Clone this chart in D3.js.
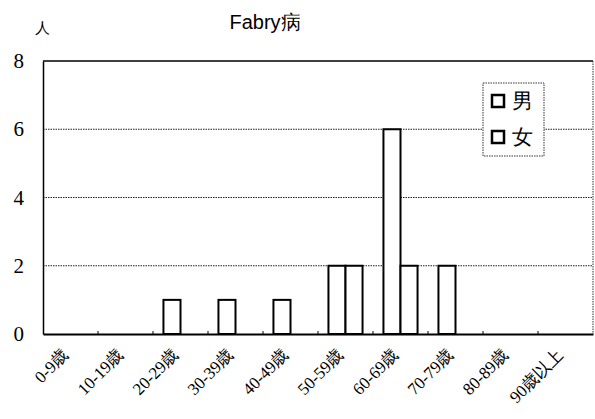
<!DOCTYPE html>
<html><head><meta charset="utf-8">
<script src="https://cdn.jsdelivr.net/npm/d3@7"></script>
</head>
<body style="margin:0;background:#fff">
<svg id="c" width="595" height="419" style="display:block"></svg>
<script>
const categories = ["0-9歳","10-19歳","20-29歳","30-39歳","40-49歳","50-59歳","60-69歳","70-79歳","80-89歳","90歳以上"];
const seriesNames = ["男","女"];
const maleValues = [0,0,1,1,1,2,6,2,0,0];
const femaleValues = [0,0,0,0,0,2,2,0,0,0];
const yTicks = [0,2,4,6,8];
const title = "Fabry病";
const yLabel = "人";

const SERIF = "'Liberation Serif'";
const svg = d3.select("#c");
const m = {l:43, r:593, t:61, b:334};
const x = d3.scaleBand().domain(categories).range([m.l, m.r]).padding(0);
const x1 = d3.scaleBand().domain(seriesNames).range([x.bandwidth()*0.19, x.bandwidth()*0.81]).padding(0);
const y = d3.scaleLinear().domain([0,8]).range([m.b, m.t]);

// gridlines
svg.append("g").selectAll("line").data(yTicks.filter(d=>d>0 && d<8)).join("line")
  .attr("x1", m.l).attr("x2", m.r).attr("y1", d=>y(d)).attr("y2", d=>y(d))
  .attr("stroke","#222").attr("stroke-width",1).attr("stroke-dasharray","1.5,1");
svg.append("line").attr("x1",m.l).attr("x2",m.r).attr("y1",y(8)).attr("y2",y(8)).attr("stroke","#000").attr("stroke-width",1.5);
svg.append("line").attr("x1",m.r).attr("x2",m.r).attr("y1",y(8)).attr("y2",y(0)).attr("stroke","#333").attr("stroke-width",1).attr("stroke-dasharray","1.5,1");

// y axis
const yAxis = d3.axisLeft(y).tickValues(yTicks).tickSize(0).tickPadding(19);
const ga = svg.append("g").attr("transform",`translate(${m.l},0)`).call(yAxis);
ga.attr("font-family",SERIF).attr("font-size",21);
ga.select(".domain").attr("stroke","#000").attr("stroke-width",1.5);
ga.selectAll("text").attr("fill","#000").style("font-family",SERIF).style("font-size","21px");
ga.selectAll(".tick").attr("class","ytk");

// bars
const data = categories.map((c,i)=>({c, vals:[{s:"男",v:maleValues[i]},{s:"女",v:femaleValues[i]}]}));
const grp = svg.append("g").selectAll("g").data(data).join("g")
  .attr("transform", d=>`translate(${x(d.c)},0)`);
grp.selectAll("rect").data(d=>d.vals.filter(e=>e.v>0)).join("rect")
  .attr("x", d=>x1(d.s)).attr("width", x1.bandwidth())
  .attr("y", d=>y(d.v)).attr("height", d=>y(0)-y(d.v))
  .attr("fill","#fff").attr("stroke","#000").attr("stroke-width",2);

// x axis
const xAxis = d3.axisBottom(x).tickSize(0).tickPadding(0);
const gx = svg.append("g").attr("transform",`translate(0,${m.b})`).call(xAxis);
gx.attr("font-family",SERIF).attr("font-size",17);
gx.select(".domain").attr("stroke","#000").attr("stroke-width",2);
gx.selectAll(".tick text").attr("fill","#000").style("font-family",SERIF).style("font-size","17px")
  .attr("text-anchor","end").attr("dy",0).attr("y",0)
  .attr("transform","translate(-1,22) rotate(-45)");
gx.selectAll(".tick").attr("class","xtk");
svg.append("g").selectAll("line").data(categories.slice(1)).join("line")
  .attr("x1", d=>x(d)).attr("x2", d=>x(d)).attr("y1", m.b).attr("y2", m.b-3)
  .attr("stroke","#000").attr("stroke-width",1);

// title and y label
svg.append("text").attr("x",265).attr("y",29).attr("text-anchor","middle")
  .style("font-family","'Liberation Sans'").style("font-size","20px").text(title);
svg.append("text").attr("x",42).attr("y",33).attr("text-anchor","middle")
  .style("font-family",SERIF).style("font-size","15px").text(yLabel);

// legend
const lg = svg.append("g").attr("transform","translate(483,83)");
lg.append("rect").attr("width",61).attr("height",73).attr("fill","#fff")
  .attr("stroke","#333").attr("stroke-width",1).attr("stroke-dasharray","1.5,1");
lg.selectAll("g").data(seriesNames).join("g")
  .attr("transform",(d,i)=>`translate(9,${12+i*36})`)
  .each(function(d){
    const g = d3.select(this);
    g.append("rect").attr("width",12).attr("height",12).attr("fill","#fff").attr("stroke","#000").attr("stroke-width",2.5);
    g.append("text").attr("x",20).attr("y",13).style("font-family",SERIF).style("font-size","21px").text(d);
  });
</script></body></html>
